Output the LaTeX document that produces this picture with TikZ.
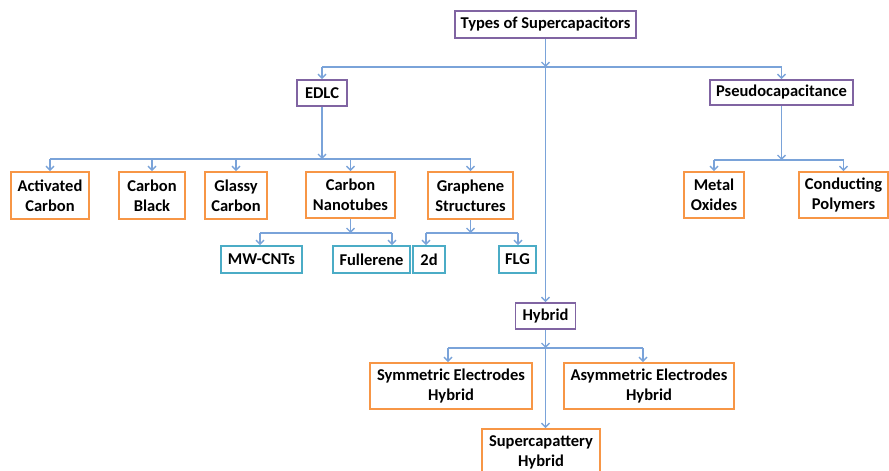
\documentclass[tikz,border=0pt]{standalone}
\usepackage{fontspec}
\setmainfont{Carlito}
\usetikzlibrary{arrows.meta}
\definecolor{pur}{HTML}{8064A2}
\definecolor{ora}{HTML}{F79646}
\definecolor{aqu}{HTML}{4BACC6}
\definecolor{lin}{HTML}{7AA3D9}
\tikzset{
  box/.style={draw, line width=1.8pt, inner sep=0pt, align=center, font=\fontsize{16.5}{20}\selectfont\bfseries, text=black},
  pbox/.style={box, draw=pur},
  obox/.style={box, draw=ora},
  abox/.style={box, draw=aqu},
  conn/.style={draw=lin, line width=1.4pt},
  arr/.style={conn, -{Straight Barb[length=4pt,width=8pt]}},
}
\begin{document}
\begin{tikzpicture}[x=1pt,y=-1pt]
\useasboundingbox (0,0) rectangle (889,471);
% level 0/1
\node[pbox, minimum width=181pt, minimum height=27pt] (top) at (545.5,24.5) {Types of Supercapacitors};
\node[pbox, minimum width=50pt, minimum height=26pt] (edlc) at (322,93) {EDLC};
\node[pbox, minimum width=143pt, minimum height=25pt] (pseudo) at (781.5,92.5) {Pseudocapacitance};
\node[pbox, minimum width=60pt, minimum height=26pt] (hyb) at (545.5,316) {Hybrid};
% EDLC children
\node[obox, minimum width=78pt, minimum height=47pt] (ac) at (50,195.5) {Activated\\Carbon};
\node[obox, minimum width=66pt, minimum height=47pt] (cb) at (152,195.5) {Carbon\\Black};
\node[obox, minimum width=62pt, minimum height=47pt] (gc) at (236,195.5) {Glassy\\Carbon};
\node[obox, minimum width=89pt, minimum height=46pt] (cnt) at (350.5,195) {Carbon\\Nanotubes};
\node[obox, minimum width=85pt, minimum height=47pt] (gs) at (470.5,195.5) {Graphene\\Structures};
% Pseudo children
\node[obox, minimum width=60pt, minimum height=46pt] (mo) at (714,195) {Metal\\Oxides};
\node[obox, minimum width=89pt, minimum height=46pt] (cp) at (843.5,195) {Conducting\\Polymers};
% level 3
\node[abox, minimum width=81pt, minimum height=27pt] (mw) at (261.5,259.5) {MW-CNTs};
\node[abox, minimum width=77pt, minimum height=27pt] (ful) at (371.5,259.5) {Fullerene};
\node[abox, minimum width=32pt, minimum height=27pt] (d2) at (429,259.5) {2d};
\node[abox, minimum width=37pt, minimum height=27pt] (flg) at (517.5,259.5) {FLG};
% Hybrid children
\node[obox, minimum width=162pt, minimum height=46pt] (sym) at (451,386) {Symmetric Electrodes\\Hybrid};
\node[obox, minimum width=170pt, minimum height=46pt] (asym) at (649,386) {Asymmetric Electrodes\\Hybrid};
\node[obox, minimum width=118pt, minimum height=47pt] (sc) at (541,452.5) {Supercapattery\\Hybrid};
% bus coordinates
\coordinate (b0) at (545.5,67);
\coordinate (b0l) at (322,67);
\coordinate (b0r) at (781.5,67);
\coordinate (b1) at (322,159);
\coordinate (b1l) at (50,159);
\coordinate (b1r) at (470.5,159);
\coordinate (b2) at (781.5,160);
\coordinate (b2l) at (714,160);
\coordinate (b2r) at (843.5,160);
\coordinate (b3) at (350.5,233);
\coordinate (b3l) at (260,233);
\coordinate (b3r) at (392,233);
\coordinate (b4) at (470.5,233);
\coordinate (b4l) at (426,233);
\coordinate (b4r) at (518,233);
\coordinate (b5) at (545.5,348);
\coordinate (b5l) at (448,348);
\coordinate (b5r) at (643,348);
% top level
\draw[arr] (top) -- (b0);
\draw[conn] (b0l) -- (b0r);
\draw[arr] (b0l) -- (edlc);
\draw[arr] (b0r) -- (pseudo);
\draw[arr] (b0) -- (hyb);
% EDLC
\draw[arr] (edlc) -- (b1);
\draw[conn] (b1l) -- (b1r);
\draw[arr] (b1l) -- (ac);
\draw[arr] (b1l -| cb) -- (cb);
\draw[arr] (b1l -| gc) -- (gc);
\draw[arr] (b1l -| cnt) -- (cnt);
\draw[arr] (b1r) -- (gs);
% Pseudo
\draw[arr] (pseudo) -- (b2);
\draw[conn] (b2l) -- (b2r);
\draw[arr] (b2l) -- (mo);
\draw[arr] (b2r) -- (cp);
% CNT
\draw[arr] (cnt) -- (b3);
\draw[conn] (b3l) -- (b3r);
\draw[arr] (b3l) -- (b3l |- mw.north);
\draw[arr] (b3r) -- (b3r |- ful.north);
% Graphene
\draw[arr] (gs) -- (b4);
\draw[conn] (b4l) -- (b4r);
\draw[arr] (b4l) -- (b4l |- d2.north);
\draw[arr] (b4r) -- (b4r |- flg.north);
% Hybrid
\draw[arr] (hyb) -- (b5);
\draw[conn] (b5l) -- (b5r);
\draw[arr] (b5l) -- (b5l |- sym.north);
\draw[arr] (b5r) -- (b5r |- asym.north);
\draw[arr] (b5) -- (b5 |- sc.north);
\end{tikzpicture}
\end{document}
